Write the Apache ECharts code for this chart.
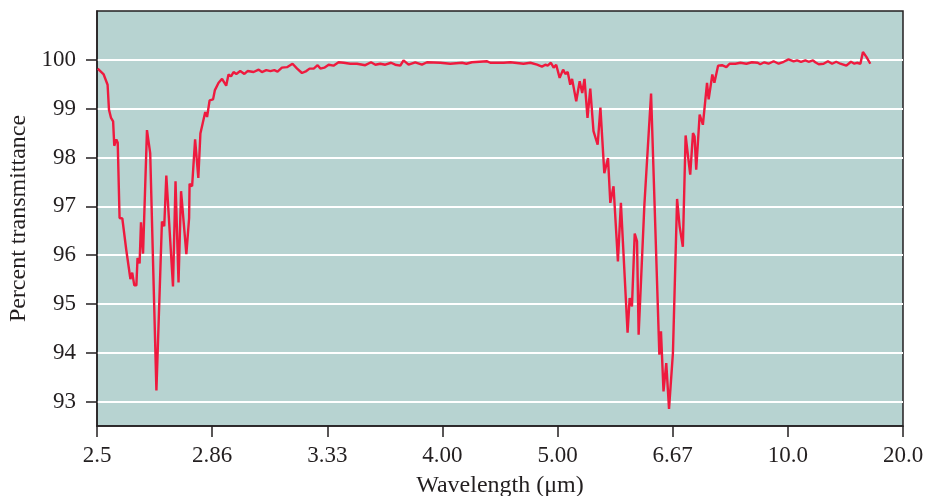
<!DOCTYPE html>
<html>
<head>
<meta charset="utf-8">
<script src="https://cdn.jsdelivr.net/npm/echarts@6/dist/echarts.min.js"></script>
<style>
  html, body { margin: 0; padding: 0; background: #ffffff; }
  #chart { width: 926px; height: 496px; }
</style>
</head>
<body>
<div id="chart"></div>
<script>
// wavenumber (cm^-1) positions of the spectrum points, the axis is linear in wavenumber
const wavenumbers = [
  3997, 3971, 3954, 3948, 3939, 3930, 3925, 3916, 3910, 3902, 3890, 3873, 3855, 3847, 3838, 3829,
  3824, 3815, 3809, 3800, 3783, 3769, 3742, 3737, 3718, 3708, 3699, 3670, 3659, 3646, 3635, 3612,
  3600, 3598, 3587, 3574, 3560, 3551, 3543, 3530, 3522, 3511, 3496, 3488, 3472, 3457, 3439, 3429,
  3418, 3407, 3395, 3378, 3360, 3346, 3320, 3298, 3284, 3265, 3247, 3230, 3216, 3197, 3175, 3151,
  3131, 3110, 3091, 3077, 3059, 3042, 3030, 3013, 2994, 2973, 2951, 2929, 2900, 2871, 2835, 2810,
  2791, 2770, 2748, 2723, 2705, 2683, 2669, 2647, 2618, 2589, 2567, 2509, 2466, 2415, 2396, 2372,
  2306, 2292, 2234, 2205, 2148, 2118, 2089, 2068, 2053, 2043, 2029, 2017, 2006, 1991, 1976, 1966,
  1956, 1945, 1937, 1930, 1919, 1904, 1893, 1883, 1870, 1858, 1844, 1836, 1826, 1814, 1797, 1781,
  1771, 1757, 1738, 1725, 1696, 1687, 1677, 1665, 1655, 1648, 1623, 1616, 1594, 1589, 1558, 1551,
  1540, 1528, 1516, 1499, 1481, 1470, 1456, 1444, 1424, 1412, 1405, 1398, 1383, 1369, 1351, 1344,
  1328, 1319, 1303, 1286, 1267, 1253, 1228, 1206, 1180, 1156, 1131, 1120, 1102, 1084, 1062, 1040,
  1018, 997, 975, 960, 943, 924, 910, 891, 881, 866, 845, 826, 808, 790, 772, 746,
  726, 711, 700, 685, 674, 659, 642
];
const transmittance = [
  99.82, 99.70, 99.49, 98.98, 98.81, 98.74, 98.24, 98.37, 98.30, 96.76, 96.75, 96.11, 95.51, 95.64, 95.38, 95.38,
  95.94, 95.83, 96.67, 96.03, 98.56, 98.09, 93.23, 93.23, 96.69, 96.59, 97.63, 95.36, 97.51, 95.44, 97.31, 96.02,
  96.76, 97.46, 97.41, 98.37, 97.58, 98.49, 98.50, 98.93, 98.83, 99.17, 99.19, 99.38, 99.53, 99.61, 99.47, 99.70,
  99.66, 99.75, 99.71, 99.77, 99.71, 99.77, 99.75, 99.80, 99.75, 99.79, 99.77, 99.79, 99.76, 99.84, 99.85, 99.92,
  99.82, 99.73, 99.77, 99.82, 99.82, 99.89, 99.82, 99.84, 99.90, 99.88, 99.95, 99.94, 99.92, 99.92, 99.89, 99.95,
  99.90, 99.92, 99.90, 99.94, 99.90, 99.88, 99.99, 99.90, 99.95, 99.90, 99.95, 99.94, 99.92, 99.94, 99.92, 99.95,
  99.97, 99.94, 99.94, 99.95, 99.92, 99.94, 99.90, 99.86, 99.90, 99.88, 99.94, 99.84, 99.90, 99.63, 99.80, 99.71,
  99.75, 99.49, 99.61, 99.60, 99.15, 99.56, 99.32, 99.61, 98.81, 99.41, 98.54, 98.57, 98.26, 99.02, 97.68, 97.99,
  97.07, 97.41, 95.87, 97.07, 94.41, 95.12, 94.95, 96.44, 96.28, 94.37, 97.03, 97.07, 99.31, 99.29, 93.96, 94.44,
  93.21, 93.79, 92.85, 94.00, 97.15, 96.59, 96.17, 98.45, 97.65, 98.50, 98.43, 97.75, 98.88, 98.67, 99.53, 99.19,
  99.70, 99.53, 99.88, 99.89, 99.85, 99.92, 99.92, 99.94, 99.92, 99.95, 99.94, 99.91, 99.95, 99.92, 99.97, 99.92,
  99.96, 100.01, 99.97, 99.99, 99.96, 99.99, 99.96, 99.99, 99.95, 99.91, 99.92, 99.97, 99.92, 99.96, 99.92, 99.88,
  99.96, 99.92, 99.94, 99.92, 100.16, 100.06, 99.92
];
// x ticks: wavenumber -> printed wavelength label
const tickWavenumbers = [4000, 3500, 3000, 2500, 2000, 1500, 1000, 500];
const tickWavelengths = ['2.5', '2.86', '3.33', '4.00', '5.00', '6.67', '10.0', '20.0'];
const yTicks = [93, 94, 95, 96, 97, 98, 99, 100];

const chart = echarts.init(document.getElementById('chart'));
const ink = '#231f20';
const font = '"Liberation Serif", "DejaVu Serif", serif';

chart.setOption({
  animation: false,
  backgroundColor: '#ffffff',
  grid: {
    left: 97, right: 23, top: 11, bottom: 70,
    containLabel: false,
    outerBoundsMode: 'none',
    show: true,
    backgroundColor: '#b7d3d1',
    borderColor: ink,
    borderWidth: 1.5
  },
  xAxis: {
    type: 'value',
    inverse: true,
    min: 500,
    max: 4000,
    interval: 500,
    name: 'Wavelength (\u03bcm)',
    nameLocation: 'middle',
    nameGap: 48,
    nameTextStyle: { fontFamily: font, fontSize: 24, color: ink },
    axisLine: { show: true, lineStyle: { color: ink, width: 1.5 } },
    axisTick: { show: true, length: 11, lineStyle: { color: ink, width: 1.5 } },
    axisLabel: {
      fontFamily: font, fontSize: 23, color: ink, margin: 18,
      formatter: function (v) {
        const i = tickWavenumbers.indexOf(v);
        return i >= 0 ? tickWavelengths[i] : '';
      }
    },
    splitLine: { show: false }
  },
  yAxis: {
    type: 'value',
    min: 92.5,
    max: 101,
    name: 'Percent transmittance',
    nameLocation: 'middle',
    nameGap: 66,
    nameTextStyle: { fontFamily: font, fontSize: 24, color: ink },
    axisLine: { show: true, lineStyle: { color: ink, width: 1.5 } },
    axisTick: { show: true, length: 11, customValues: yTicks, lineStyle: { color: ink, width: 1.5 } },
    axisLabel: { fontFamily: font, fontSize: 23, color: ink, margin: 21, customValues: yTicks },
    splitLine: { show: true, lineStyle: { color: '#ffffff', width: 2 } }
  },
  series: [{
    type: 'line',
    data: wavenumbers.map((w, i) => [w, transmittance[i]]),
    showSymbol: false,
    lineStyle: { color: '#ee1a3e', width: 2.4 },
    z: 5
  }]
});
</script>
</body>
</html>
